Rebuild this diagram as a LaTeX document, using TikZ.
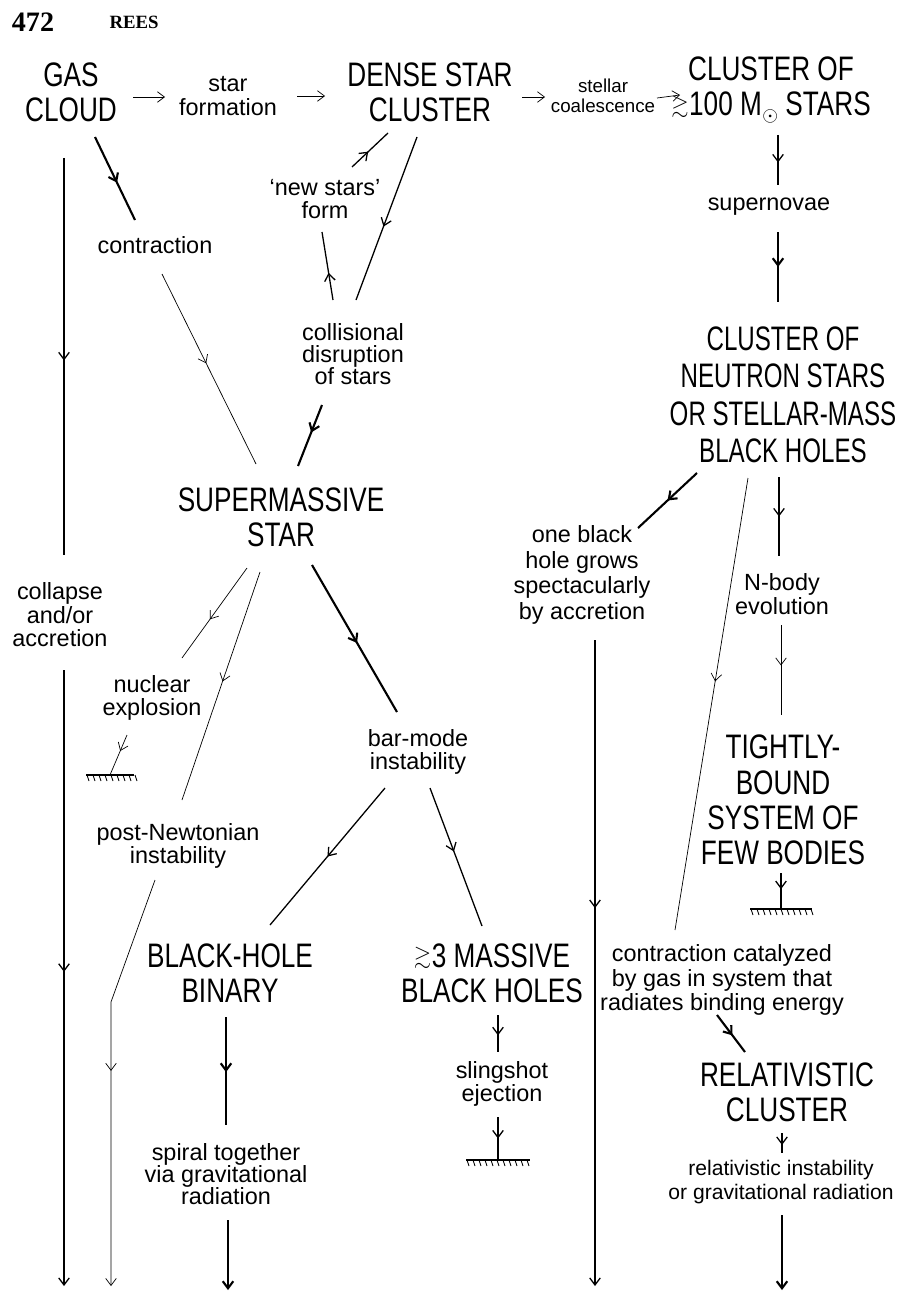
\documentclass[tikz,border=0pt]{standalone}
\usepackage{amssymb}
\usepackage{fontspec}
\setmainfont{Liberation Sans}
\newfontfamily\bigf[FakeStretch=0.77]{Liberation Sans}
\newfontfamily\bign[FakeStretch=0.71]{Liberation Sans}
\newfontfamily\hdrf{Liberation Serif}
\newcommand\gsim{\raisebox{3pt}{\fontsize{19}{19}\selectfont$\gtrsim$}\kern0.5pt}
\newcommand\msun{M\kern0.5pt\raisebox{-5pt}{\fontsize{18}{18}\selectfont$\odot$}}
\usetikzlibrary{arrows.meta,decorations.markings}
\begin{document}
\begin{tikzpicture}[x=0.03cm,y=-0.03cm,
  big/.style={font=\bigf\fontsize{29}{30}\selectfont, align=center, inner sep=0pt},
  small/.style={font=\fontsize{20}{20}\selectfont, align=center, inner sep=0pt},
  smaller/.style={font=\fontsize{16}{17}\selectfont, align=center, inner sep=0pt},
  hdrnum/.style={font=\hdrf\bfseries\fontsize{24}{24}\selectfont, inner sep=0pt},
  hdrname/.style={font=\hdrf\bfseries\fontsize{16}{16}\selectfont, inner sep=0pt},
  thk/.style={line width=1.8pt},
  ln/.style={line width=1.1pt},
  thn/.style={line width=0.6pt},
  marr/.style={postaction={decorate},decoration={markings,mark=at position #1 with {\arrow{Straight Barb[length=6pt,width=9pt]}}}},
  marr/.default=0.5,
  tipend/.style={-{Straight Barb[length=6pt,width=9pt]}},
  hatchground/.pic={
    \draw[line width=1pt] (-#1,0) -- (#1,0);
    \pgfmathsetmacro{\n}{int(2*#1/6)}
    \foreach \k in {0,...,\n} \draw[line width=0.7pt] (-#1+\k*6+1,0) -- ++(2,6);
  }
]
\fill[white] (0,0) rectangle (899,1292);
\useasboundingbox (0,0) rectangle (899,1292);

% header
\node[hdrnum] (pg) at (33,22) {472};
\node[hdrname] (rees) at (134,22) {REES};

% nodes
\node[big] (gas) at (71,92) {GAS\\CLOUD};
\node[small] (starform) at (228,96) {star\\formation};
\node[big] (dense) at (430,92) {DENSE STAR\\CLUSTER};
\node[smaller] (stellar) at (603,96) {stellar\\coalescence};
\node[big] (cl100) at (771,90) {CLUSTER OF\\\gsim100 \msun{} STARS};
\node[small] (contr) at (155,245) {contraction};
\node[small] (newst) at (325,199) {`new stars'\\form};
\node[small, font=\fontsize{20}{19}\selectfont] (coll) at (353,354) {collisional\\disruption\\of stars};
\node[small] (supern) at (769,207) {supernovae};
\node[big, font=\bign\fontsize{29}{32}\selectfont] (nscl) at (783,395) {CLUSTER OF\\NEUTRON STARS\\OR STELLAR-MASS\\BLACK HOLES};
\node[big] (sms) at (281,517) {SUPERMASSIVE\\STAR};
\node[small] (collapse) at (60,615) {collapse\\and/or\\accretion};
\node[small, font=\fontsize{20}{22}\selectfont] (onebh) at (582,575) {one black\\hole grows\\spectacularly\\by accretion};
\node[small] (nbody) at (782,594) {N-body\\evolution};
\node[small] (nuclear) at (152,698) {nuclear\\explosion};
\node[small] (barmode) at (418,752) {bar-mode\\instability};
\node[big] (tight) at (783,800) {TIGHTLY-\\BOUND\\SYSTEM OF\\FEW BODIES};
\node[small] (postn) at (178,846) {post-Newtonian\\instability};
\node[big] (bhb) at (230,973) {BLACK-HOLE\\BINARY};
\node[big] (mbh) at (492,973) {\gsim3 MASSIVE\\BLACK HOLES};
\node[small, font=\fontsize{20}{21}\selectfont] (contrcat) at (722,980) {contraction catalyzed\\by gas in system that\\radiates binding energy};
\node[small] (sling) at (502,1084) {slingshot\\ejection};
\node[big] (rel) at (787,1092) {RELATIVISTIC\\CLUSTER};
\node[small, font=\fontsize{20}{19}\selectfont] (spiral) at (226,1174) {spiral together\\via gravitational\\radiation};
\node[small, font=\fontsize{18}{20}\selectfont] (relinst) at (781,1182) {relativistic instability\\or gravitational radiation};

% connector end points
\coordinate (a1s) at (133,97);  \coordinate (a1e) at (165,97);
\coordinate (a2s) at (297,96);  \coordinate (a2e) at (325,96);
\coordinate (a3s) at (522,97);  \coordinate (a3e) at (545,97);
\coordinate (a4s) at (657,98);  \coordinate (a4e) at (680,95);
\coordinate (a5s) at (778,135); \coordinate (a5e) at (778,185);
\coordinate (a6s) at (778,232); \coordinate (a6e) at (778,302);
\coordinate (a7s) at (697,473); \coordinate (a7e) at (638,528);
\coordinate (a8s) at (748,478); \coordinate (a8e) at (675,930);
\coordinate (a9s) at (779,477); \coordinate (a9e) at (779,556);
\coordinate (a10s) at (781,625); \coordinate (a10e) at (781,715);
\coordinate (a11s) at (781,873); \coordinate (g1) at (781,909);
\coordinate (a12s) at (717,1015); \coordinate (a12e) at (745,1052);
\coordinate (a13s) at (782,1133); \coordinate (a13e) at (782,1153);
\coordinate (a14s) at (782,1215); \coordinate (a14e) at (782,1290);
\coordinate (a15s) at (595,640); \coordinate (a15e) at (595,1286);
\coordinate (a16s) at (64,158); \coordinate (a16e) at (64,555);
\coordinate (a17s) at (64,670); \coordinate (a17e) at (64,1286);
\coordinate (a18s) at (95,137); \coordinate (a18e) at (135,220);
\coordinate (a19s) at (162,274); \coordinate (a19e) at (256,464);
\coordinate (a20s) at (417,137); \coordinate (a20e) at (356,300);
\coordinate (a21s) at (333,300); \coordinate (a21e) at (322,232);
\coordinate (a22s) at (352,167); \coordinate (a22e) at (388,133);
\coordinate (a23s) at (322,405); \coordinate (a23e) at (298,466);
\coordinate (a24s) at (247,568); \coordinate (a24e) at (182,658);
\coordinate (a25s) at (260,572); \coordinate (a25e) at (182,800);
\coordinate (a26s) at (127,735); \coordinate (g2) at (110,775);
\coordinate (a27s) at (155,880); \coordinate (a27m) at (111,1002); \coordinate (a27e) at (111,1286);
\coordinate (a28s) at (312,565); \coordinate (a28e) at (397,712);
\coordinate (a29s) at (385,788); \coordinate (a29e) at (270,925);
\coordinate (a30s) at (430,788); \coordinate (a30e) at (482,926);
\coordinate (a31s) at (226,1017); \coordinate (a31e) at (226,1125);
\coordinate (a32s) at (228,1220); \coordinate (a32e) at (228,1290);
\coordinate (a33s) at (498,1015); \coordinate (a33e) at (498,1052);
\coordinate (a34s) at (498,1117); \coordinate (g3) at (498,1160);

% top row
\draw[thn, tipend] (a1s) -- (a1e);
\draw[thn, tipend] (a2s) -- (a2e);
\draw[thn, tipend] (a3s) -- (a3e);
\draw[thn, tipend] (a4s) -- (a4e);

% right column
\draw[ln, marr=0.55] (a5s) -- (a5e);
\draw[thk, marr=0.5] (a6s) -- (a6e);
\draw[thk, marr=0.5] (a7s) -- (a7e);
\draw[thn, marr=0.45] (a8s) -- (a8e);
\draw[ln, marr=0.5] (a9s) -- (a9e);
\draw[thn, marr=0.45] (a10s) -- (a10e);
\draw[ln, marr=0.45] (a11s) -- (g1);
\pic at (g1) {hatchground=31};
\draw[thk, marr=0.55] (a12s) -- (a12e);
\draw[ln, marr=0.6] (a13s) -- (a13e);
\draw[thk, tipend] (a14s) -- (a14e);
\draw[ln, marr=0.415, tipend] (a15s) -- (a15e);

% left side
\draw[ln, marr=0.51] (a16s) -- (a16e);
\draw[ln, marr=0.49, tipend] (a17s) -- (a17e);
\draw[thk, marr=0.55] (a18s) -- (a18e);
\draw[thn, marr=0.47] (a19s) -- (a19e);
\draw[ln, marr=0.55] (a20s) -- (a20e);
\draw[ln, marr=0.4] (a21s) -- (a21e);
\draw[ln, marr=0.45] (a22s) -- (a22e);
\draw[thk, marr=0.45] (a23s) -- (a23e);
\draw[thn, marr=0.57] (a24s) -- (a24e);
\draw[thn, marr=0.48] (a25s) -- (a25e);
\draw[thn, marr=0.4] (a26s) -- (g2);
\pic at (g2) {hatchground=24};
\draw[thn, marr=0.48, tipend] (a27s) -- (a27m) -- (a27e);
\draw[thk, marr=0.53] (a28s) -- (a28e);
\draw[ln, marr=0.5] (a29s) -- (a29e);
\draw[ln, marr=0.46] (a30s) -- (a30e);
\draw[thk, marr=0.51] (a31s) -- (a31e);
\draw[thk, tipend] (a32s) -- (a32e);
\draw[ln, marr=0.55] (a33s) -- (a33e);
\draw[ln, marr=0.5] (a34s) -- (g3);
\pic at (g3) {hatchground=32};
\end{tikzpicture}
\end{document}
